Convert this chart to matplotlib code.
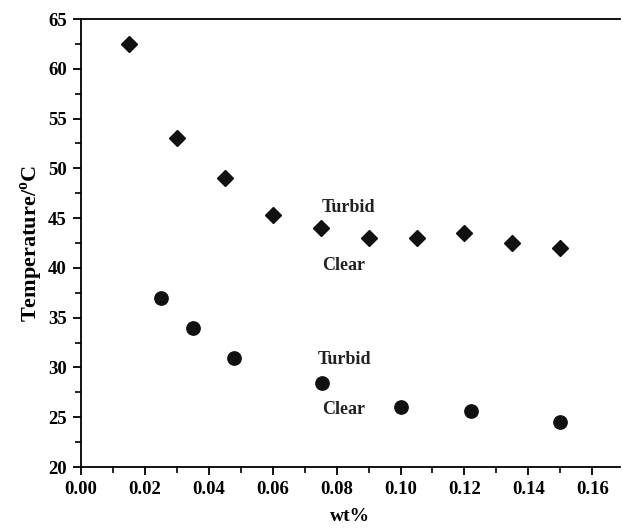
import numpy as np
import matplotlib.pyplot as plt
from matplotlib.ticker import MultipleLocator

plt.rcParams['font.family'] = ['Liberation Serif', 'DejaVu Serif']
plt.rcParams['font.weight'] = 'bold'
plt.rcParams['mathtext.fontset'] = 'custom'
plt.rcParams['mathtext.rm'] = 'Liberation Serif'
plt.rcParams['mathtext.bf'] = 'Liberation Serif:bold'

# upper boundary (diamonds)
x_upper = [0.015, 0.030, 0.045, 0.060, 0.075, 0.090, 0.105, 0.120, 0.135, 0.150]
t_upper = [62.5, 53.0, 49.0, 45.3, 44.0, 43.0, 43.0, 43.5, 42.5, 42.0]

# lower boundary (circles)
x_lower = [0.025, 0.035, 0.048, 0.0755, 0.100, 0.122, 0.150]
t_lower = [37.0, 34.0, 30.9, 28.4, 26.0, 25.6, 24.5]

xticks = [0.00, 0.02, 0.04, 0.06, 0.08, 0.10, 0.12, 0.14, 0.16]
yticks = [20, 25, 30, 35, 40, 45, 50, 55, 60, 65]

fig = plt.figure(figsize=(6.22, 5.28), dpi=100)
ax = fig.add_axes([0.130, 0.1155, 0.867, 0.8485])

ax.plot(x_upper, t_upper, 'D', color='#111111', markersize=8.2, linestyle='none')
ax.plot(x_lower, t_lower, 'o', color='#111111', markersize=9.6, linestyle='none')

ax.text(0.0754, 46.1, 'Turbid', fontsize=13, fontweight='bold', va='center', color='#222222')
ax.text(0.0754, 40.2, 'Clear', fontsize=13, fontweight='bold', va='center', color='#222222')
ax.text(0.0740, 30.8, 'Turbid', fontsize=13, fontweight='bold', va='center', color='#222222')
ax.text(0.0754, 25.8, 'Clear', fontsize=13, fontweight='bold', va='center', color='#222222')

ax.set_xlim(0, 0.1687)
ax.set_ylim(20, 65)
ax.set_xticks(xticks)
ax.set_xticklabels(['%.2f' % v for v in xticks])
ax.set_yticks(yticks)
ax.xaxis.set_minor_locator(MultipleLocator(0.01))
ax.yaxis.set_minor_locator(MultipleLocator(2.5))
ax.tick_params(which='major', direction='out', length=6, width=1.3, labelsize=13.5, pad=4)
ax.tick_params(which='minor', direction='out', length=4, width=1.2)
for lab in ax.get_xticklabels() + ax.get_yticklabels():
    lab.set_fontweight('bold')

ax.spines['right'].set_visible(False)
for s in ['left', 'bottom', 'top']:
    ax.spines[s].set_linewidth(1.3)

ax.set_xlabel('wt%', fontsize=14, fontweight='bold', labelpad=7)
ax.set_ylabel('Temperature/$^{\\mathbf{o}}$C', fontsize=16, fontweight='bold', labelpad=2)

fig.savefig('out.png', dpi=100)
